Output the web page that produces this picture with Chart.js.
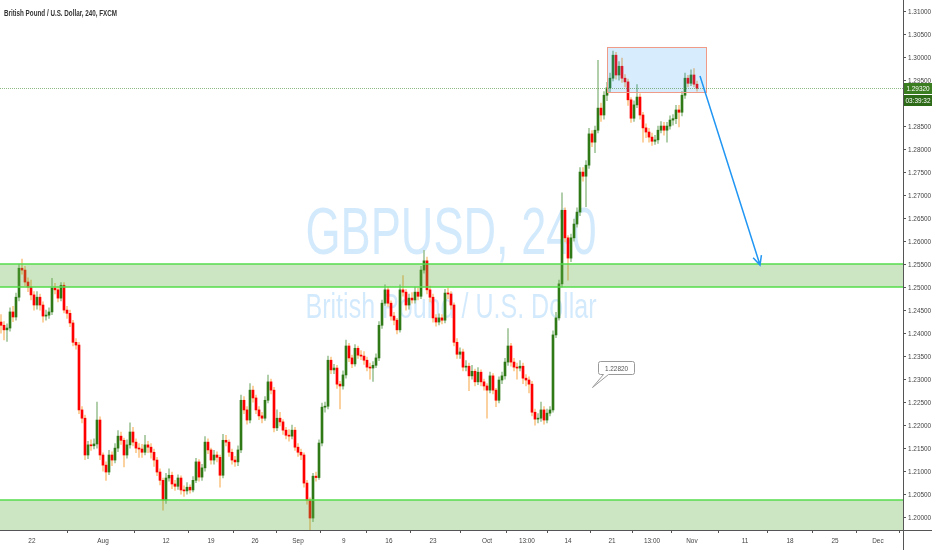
<!DOCTYPE html>
<html>
<head>
<meta charset="utf-8">
<script src="https://cdn.jsdelivr.net/npm/chart.js@4.4.1/dist/chart.umd.min.js"></script>
<style>
  html, body { margin: 0; padding: 0; background: #fff; }
  #wrap { width: 932px; height: 550px; }
</style>
</head>
<body>
<div id="wrap"><canvas id="chart" width="932" height="550"></canvas></div>
<script>
// GBPUSD 240, one candle per two 4h bars
const firstOpen = 1.2424
const closes = [
  1.2417, 1.2407, 1.2411, 1.2446, 1.2435, 1.2478, 1.2541, 1.2537, 1.2511, 1.2500,
  1.2483, 1.2461, 1.2478, 1.2461, 1.2437, 1.2439, 1.2446, 1.2498, 1.2494, 1.2476,
  1.2504, 1.2450, 1.2443, 1.2422, 1.2380, 1.2374, 1.2233, 1.2215, 1.2135, 1.2157,
  1.2155, 1.2159, 1.2211, 1.2135, 1.2113, 1.2098, 1.2135, 1.2124, 1.2150, 1.2176,
  1.2167, 1.2135, 1.2157, 1.2185, 1.2163, 1.2150, 1.2148, 1.2141, 1.2157, 1.2152,
  1.2141, 1.2124, 1.2098, 1.2080, 1.2037, 1.2085, 1.2091, 1.2072, 1.2067, 1.2085,
  1.2059, 1.2057, 1.2065, 1.2059, 1.2080, 1.2120, 1.2087, 1.2107, 1.2163, 1.2146,
  1.2124, 1.2135, 1.2130, 1.2091, 1.2167, 1.2163, 1.2141, 1.2124, 1.2120, 1.2146,
  1.2254, 1.2233, 1.2211, 1.2276, 1.2259, 1.2233, 1.2220, 1.2215, 1.2254, 1.2294,
  1.2276, 1.2194, 1.2215, 1.2207, 1.2189, 1.2178, 1.2176, 1.2189, 1.2152, 1.2141,
  1.2135, 1.2074, 1.2037, 1.1998, 1.2089, 1.2086, 1.2161, 1.2239, 1.2241, 1.2341,
  1.2320, 1.2324, 1.2289, 1.2285, 1.2309, 1.2372, 1.2346, 1.2333, 1.2367, 1.2352,
  1.2350, 1.2341, 1.2326, 1.2324, 1.2330, 1.2346, 1.2417, 1.2465, 1.2494, 1.2465,
  1.2437, 1.2428, 1.2407, 1.2494, 1.2489, 1.2461, 1.2476, 1.2472, 1.2489, 1.2480,
  1.2537, 1.2557, 1.2494, 1.2478, 1.2433, 1.2424, 1.2433, 1.2428, 1.2487, 1.2485,
  1.2461, 1.2380, 1.2354, 1.2359, 1.2326, 1.2328, 1.2307, 1.2317, 1.2294, 1.2315,
  1.2294, 1.2285, 1.2276, 1.2307, 1.2276, 1.2254, 1.2298, 1.2307, 1.2337, 1.2372,
  1.2337, 1.2326, 1.2324, 1.2328, 1.2302, 1.2298, 1.2289, 1.2228, 1.2213, 1.2215,
  1.2233, 1.2211, 1.2226, 1.2233, 1.2396, 1.2433, 1.2507, 1.2667, 1.2607, 1.2563,
  1.2607, 1.2637, 1.2663, 1.2750, 1.2741, 1.2765, 1.2833, 1.2815, 1.2841, 1.2889,
  1.2874, 1.2917, 1.2933, 1.2954, 1.3004, 1.2961, 1.2980, 1.2954, 1.2946, 1.2907,
  1.2867, 1.2896, 1.2913, 1.2874, 1.2846, 1.2837, 1.2826, 1.2817, 1.2820, 1.2841,
  1.2850, 1.2841, 1.2850, 1.2863, 1.2866, 1.2885, 1.2880, 1.2917, 1.2954, 1.2943,
  1.2961, 1.2941, 1.2932
]
const highs = [
  1.2440, 1.2425, 1.2420, 1.2455, 1.2458, 1.2487, 1.2550, 1.2561, 1.2545, 1.2520,
  1.2515, 1.2490, 1.2490, 1.2485, 1.2468, 1.2450, 1.2455, 1.2519, 1.2508, 1.2500,
  1.2510, 1.2510, 1.2458, 1.2450, 1.2428, 1.2388, 1.2380, 1.2240, 1.2222, 1.2165,
  1.2168, 1.2170, 1.2250, 1.2218, 1.2140, 1.2120, 1.2145, 1.2142, 1.2160, 1.2188,
  1.2185, 1.2172, 1.2168, 1.2205, 1.2195, 1.2170, 1.2160, 1.2158, 1.2178, 1.2165,
  1.2160, 1.2148, 1.2130, 1.2105, 1.2085, 1.2095, 1.2105, 1.2098, 1.2080, 1.2092,
  1.2090, 1.2068, 1.2075, 1.2070, 1.2088, 1.2128, 1.2125, 1.2115, 1.2175, 1.2170,
  1.2150, 1.2145, 1.2142, 1.2135, 1.2180, 1.2178, 1.2168, 1.2148, 1.2132, 1.2155,
  1.2265, 1.2262, 1.2240, 1.2290, 1.2285, 1.2265, 1.2240, 1.2228, 1.2262, 1.2309,
  1.2300, 1.2282, 1.2233, 1.2228, 1.2212, 1.2195, 1.2190, 1.2200, 1.2195, 1.2160,
  1.2148, 1.2140, 1.2080, 1.2042, 1.2095, 1.2098, 1.2168, 1.2248, 1.2250, 1.2350,
  1.2348, 1.2332, 1.2330, 1.2295, 1.2318, 1.2385, 1.2378, 1.2352, 1.2375, 1.2372,
  1.2362, 1.2360, 1.2348, 1.2335, 1.2338, 1.2355, 1.2425, 1.2472, 1.2505, 1.2500,
  1.2470, 1.2445, 1.2432, 1.2505, 1.2525, 1.2495, 1.2485, 1.2488, 1.2500, 1.2498,
  1.2545, 1.2580, 1.2565, 1.2502, 1.2485, 1.2440, 1.2442, 1.2440, 1.2495, 1.2498,
  1.2490, 1.2466, 1.2388, 1.2368, 1.2365, 1.2340, 1.2335, 1.2330, 1.2322, 1.2325,
  1.2320, 1.2300, 1.2290, 1.2315, 1.2312, 1.2280, 1.2305, 1.2315, 1.2345, 1.2410,
  1.2378, 1.2345, 1.2335, 1.2340, 1.2335, 1.2310, 1.2305, 1.2295, 1.2235, 1.2225,
  1.2250, 1.2240, 1.2235, 1.2240, 1.2405, 1.2445, 1.2515, 1.2705, 1.2672, 1.2612,
  1.2615, 1.2648, 1.2672, 1.2760, 1.2760, 1.2775, 1.2845, 1.2840, 1.2850, 1.2993,
  1.2900, 1.2925, 1.2945, 1.2965, 1.3013, 1.3010, 1.2990, 1.2998, 1.2962, 1.2952,
  1.2912, 1.2905, 1.2940, 1.2920, 1.2880, 1.2855, 1.2845, 1.2835, 1.2830, 1.2850,
  1.2860, 1.2858, 1.2858, 1.2872, 1.2875, 1.2895, 1.2895, 1.2925, 1.2965, 1.2960,
  1.2972, 1.2975, 1.2948
]
const lows = [
  1.2400, 1.2385, 1.2382, 1.2404, 1.2425, 1.2428, 1.2470, 1.2528, 1.2503, 1.2490,
  1.2472, 1.2450, 1.2452, 1.2450, 1.2424, 1.2428, 1.2432, 1.2440, 1.2485, 1.2468,
  1.2470, 1.2444, 1.2432, 1.2414, 1.2372, 1.2365, 1.2225, 1.2205, 1.2125, 1.2127,
  1.2145, 1.2148, 1.2150, 1.2125, 1.2100, 1.2080, 1.2092, 1.2112, 1.2118, 1.2142,
  1.2158, 1.2109, 1.2128, 1.2150, 1.2155, 1.2140, 1.2130, 1.2130, 1.2135, 1.2140,
  1.2128, 1.2110, 1.2090, 1.2070, 1.2015, 1.2030, 1.2078, 1.2062, 1.2058, 1.2060,
  1.2050, 1.2045, 1.2050, 1.2052, 1.2055, 1.2075, 1.2078, 1.2080, 1.2100, 1.2138,
  1.2115, 1.2115, 1.2120, 1.2065, 1.2085, 1.2155, 1.2132, 1.2115, 1.2110, 1.2112,
  1.2140, 1.2225, 1.2202, 1.2205, 1.2250, 1.2225, 1.2212, 1.2205, 1.2210, 1.2248,
  1.2268, 1.2185, 1.2188, 1.2198, 1.2180, 1.2170, 1.2165, 1.2170, 1.2145, 1.2132,
  1.2125, 1.2065, 1.2028, 1.1959, 1.1990, 1.2078, 1.2082, 1.2155, 1.2228, 1.2235,
  1.2312, 1.2312, 1.2280, 1.2235, 1.2278, 1.2302, 1.2338, 1.2325, 1.2328, 1.2345,
  1.2342, 1.2332, 1.2318, 1.2300, 1.2295, 1.2325, 1.2340, 1.2410, 1.2460, 1.2458,
  1.2428, 1.2418, 1.2398, 1.2402, 1.2480, 1.2450, 1.2452, 1.2465, 1.2465, 1.2472,
  1.2475, 1.2530, 1.2485, 1.2468, 1.2424, 1.2415, 1.2418, 1.2420, 1.2422, 1.2475,
  1.2452, 1.2372, 1.2345, 1.2345, 1.2318, 1.2318, 1.2275, 1.2300, 1.2285, 1.2288,
  1.2285, 1.2276, 1.2215, 1.2270, 1.2268, 1.2240, 1.2248, 1.2290, 1.2300, 1.2330,
  1.2328, 1.2318, 1.2300, 1.2318, 1.2290, 1.2285, 1.2270, 1.2220, 1.2200, 1.2205,
  1.2208, 1.2202, 1.2205, 1.2220, 1.2228, 1.2390, 1.2428, 1.2500, 1.2598, 1.2515,
  1.2555, 1.2600, 1.2630, 1.2655, 1.2730, 1.2675, 1.2758, 1.2805, 1.2792, 1.2835,
  1.2860, 1.2865, 1.2905, 1.2925, 1.2948, 1.2952, 1.2950, 1.2945, 1.2935, 1.2895,
  1.2858, 1.2860, 1.2890, 1.2865, 1.2815, 1.2825, 1.2815, 1.2808, 1.2810, 1.2812,
  1.2835, 1.2830, 1.2815, 1.2843, 1.2852, 1.2855, 1.2848, 1.2872, 1.2910, 1.2935,
  1.2938, 1.2935, 1.2926
]

// axis labels
const priceTicks = [1.200, 1.205, 1.210, 1.215, 1.220, 1.225, 1.230, 1.235, 1.240, 1.245, 1.250,
  1.255, 1.260, 1.265, 1.270, 1.275, 1.280, 1.285, 1.290, 1.295, 1.300, 1.305, 1.310]
const dateTicks = [10.3, 34.0, 55.0, 70.0, 84.7, 99.0, 114.3, 129.3, 144.0, 162.0,
  175.3, 189.0, 203.7, 217.0, 230.3, 248.0, 263.0, 278.0, 292.3]
const dateLabels = ['22', 'Aug', '12', '19', '26', 'Sep', '9', '16', '23', 'Oct',
  '13:00', '14', '21', '13:00', 'Nov', '11', '18', '25', 'Dec']

// drawings on the chart (bar index / price)
const lastPrice = 1.29320
const countdown = '03:39:32'
const zones = [[1.2500, 1.2550], [1.1900, 1.2037]]
const boxBars = [202, 235]
const boxPrices = [1.2924, 1.3022]
const arrowFrom = [233, 1.2959]
const arrowTo = [253, 1.2548]
const calloutAt = [197, 1.2282]
const calloutText = '1.22820'

const labelFont = '8px "Liberation Sans", Arial, sans-serif'
const opens = closes.map((c, i) => i === 0 ? firstOpen : closes[i - 1])
const up = closes.map((c, i) => c >= opens[i])

// text squeezed sideways, the TradingView font is a narrow one
function narrowText(ctx, text, x, y, sx, font, align, baseline) {
  ctx.save()
  ctx.font = font
  ctx.translate(x, y)
  ctx.scale(sx, 1)
  ctx.textAlign = align || 'center'
  ctx.textBaseline = baseline || 'alphabetic'
  ctx.fillText(text, 0, 0)
  ctx.restore()
}

function fitText(ctx, text, x, y, width, font, align) {
  ctx.save()
  ctx.font = font
  const w = ctx.measureText(text).width
  ctx.restore()
  narrowText(ctx, text, x, y, width / w, font, align)
}

const drawings = {
  id: 'drawings',
  beforeDatasetsDraw(chart) {
    const ctx = chart.ctx
    ctx.save()
    ctx.fillStyle = 'rgba(33,150,243,0.2)'
    fitText(ctx, 'GBPUSD, 240', 451, 254, 291, '67px "Liberation Sans", Arial, sans-serif')
    fitText(ctx, 'British Pound / U.S. Dollar', 451, 318, 291, '35px "Liberation Sans", Arial, sans-serif')
    ctx.restore()
  },
  afterDatasetsDraw(chart) {
    const ctx = chart.ctx
    const a = chart.chartArea
    const xs = chart.scales.x
    const ys = chart.scales.y
    ctx.save()
    ctx.beginPath()
    ctx.rect(a.left, a.top, a.right - a.left, a.bottom - a.top)
    ctx.clip()

    // support zones
    for (const z of zones) {
      const y1 = ys.getPixelForValue(z[1])
      const y2 = ys.getPixelForValue(z[0])
      ctx.fillStyle = 'rgba(100,175,70,0.33)'
      ctx.fillRect(a.left, y1, a.right - a.left, y2 - y1)
      ctx.strokeStyle = '#55dd4c'
      ctx.lineWidth = 1.5
      ctx.beginPath()
      ctx.moveTo(a.left, y1); ctx.lineTo(a.right, y1)
      ctx.moveTo(a.left, y2); ctx.lineTo(a.right, y2)
      ctx.stroke()
    }

    // top box
    const bx1 = xs.getPixelForValue(boxBars[0])
    const bx2 = xs.getPixelForValue(boxBars[1])
    const by1 = ys.getPixelForValue(boxPrices[1])
    const by2 = ys.getPixelForValue(boxPrices[0])
    ctx.fillStyle = 'rgba(33,150,243,0.18)'
    ctx.fillRect(bx1, by1, bx2 - bx1, by2 - by1)
    ctx.strokeStyle = '#f09a88'
    ctx.lineWidth = 1
    ctx.strokeRect(Math.round(bx1) + 0.5, Math.round(by1) + 0.5, Math.round(bx2 - bx1), Math.round(by2 - by1))

    // last price line
    const py = Math.round(ys.getPixelForValue(lastPrice)) + 0.5
    ctx.strokeStyle = 'rgba(70,140,50,0.6)'
    ctx.setLineDash([1, 1])
    ctx.beginPath()
    ctx.moveTo(a.left, py); ctx.lineTo(a.right, py)
    ctx.stroke()
    ctx.setLineDash([])

    // arrow
    const ax1 = xs.getPixelForValue(arrowFrom[0]), ay1 = ys.getPixelForValue(arrowFrom[1])
    const ax2 = xs.getPixelForValue(arrowTo[0]), ay2 = ys.getPixelForValue(arrowTo[1])
    const ang = Math.atan2(ay2 - ay1, ax2 - ax1)
    ctx.strokeStyle = '#2196f3'
    ctx.lineWidth = 1.5
    ctx.beginPath()
    ctx.moveTo(ax1, ay1); ctx.lineTo(ax2, ay2)
    ctx.moveTo(ax2 - 10 * Math.cos(ang - 0.45), ay2 - 10 * Math.sin(ang - 0.45))
    ctx.lineTo(ax2, ay2)
    ctx.lineTo(ax2 - 10 * Math.cos(ang + 0.45), ay2 - 10 * Math.sin(ang + 0.45))
    ctx.stroke()

    // callout
    const cx = Math.round(xs.getPixelForValue(calloutAt[0])) + 0.5
    const cy = Math.round(ys.getPixelForValue(calloutAt[1])) + 0.5
    const l = cx + 6, r = cx + 42, t = cy - 26, b = cy - 13
    ctx.beginPath()
    ctx.moveTo(l + 2, t); ctx.lineTo(r - 2, t); ctx.quadraticCurveTo(r, t, r, t + 2)
    ctx.lineTo(r, b - 2); ctx.quadraticCurveTo(r, b, r - 2, b)
    ctx.lineTo(cx + 16, b); ctx.lineTo(cx, cy); ctx.lineTo(cx + 11, b)
    ctx.lineTo(l + 2, b); ctx.quadraticCurveTo(l, b, l, b - 2)
    ctx.lineTo(l, t + 2); ctx.quadraticCurveTo(l, t, l + 2, t)
    ctx.closePath()
    ctx.fillStyle = '#fff'
    ctx.fill()
    ctx.strokeStyle = '#9a9a9a'
    ctx.lineWidth = 1
    ctx.stroke()
    ctx.fillStyle = '#555'
    narrowText(ctx, calloutText, (l + r) / 2, (t + b) / 2 + 0.5, 0.8, labelFont, 'center', 'middle')
    ctx.restore()
  },
  afterDraw(chart) {
    const ctx = chart.ctx
    const a = chart.chartArea
    const xs = chart.scales.x
    const ys = chart.scales.y
    ctx.save()
    ctx.strokeStyle = '#555'
    ctx.lineWidth = 1
    ctx.beginPath()
    ctx.moveTo(a.right + 0.5, 0); ctx.lineTo(a.right + 0.5, chart.height)
    ctx.moveTo(0, a.bottom + 0.5); ctx.lineTo(chart.width, a.bottom + 0.5)
    ctx.stroke()

    // tick labels, drawn narrow at the scale's own tick positions
    ctx.fillStyle = '#444'
    ys.ticks.forEach((t, i) => {
      narrowText(ctx, priceTicks[i].toFixed(5), a.right + 5, ys.getPixelForValue(t.value) + 0.5, 0.8, labelFont, 'left', 'middle')
    })
    xs.ticks.forEach((t, i) => {
      narrowText(ctx, dateLabels[i], xs.getPixelForValue(t.value), a.bottom + 11, 0.8, labelFont, 'center', 'middle')
    })

    // last price + countdown labels
    const py = Math.round(ys.getPixelForValue(lastPrice))
    ctx.fillStyle = '#3b7e22'
    ctx.fillRect(a.right + 1, py - 5, chart.width - a.right - 1, 11)
    ctx.fillStyle = '#2d6b18'
    ctx.fillRect(a.right + 1, py + 7, chart.width - a.right - 1, 11)
    ctx.fillStyle = '#fff'
    const mid = (a.right + chart.width) / 2 + 0.5
    narrowText(ctx, lastPrice.toFixed(5), mid, py + 0.5, 0.8, labelFont, 'center', 'middle')
    narrowText(ctx, countdown, mid, py + 12.5, 0.8, labelFont, 'center', 'middle')

    // title
    ctx.fillStyle = '#333'
    fitText(ctx, 'British Pound / U.S. Dollar, 240, FXCM', 4, 16, 113, 'bold 9px "Liberation Sans", Arial, sans-serif', 'left')
    ctx.restore()
  }
}

new Chart(document.getElementById('chart'), {
  type: 'bar',
  data: {
    datasets: [
      {
        data: closes.map((c, i) => ({ x: i, y: [opens[i], c] })),
        backgroundColor: up.map(u => u ? '#2f7a17' : '#ff0000'),
        barThickness: 2,
        minBarLength: 1,
        grouped: false,
        order: 1
      },
      {
        data: closes.map((c, i) => ({ x: i, y: [lows[i], highs[i]] })),
        backgroundColor: up.map(u => u ? '#a3c69b' : '#fbc88c'),
        barThickness: 1,
        grouped: false,
        order: 2
      }
    ]
  },
  options: {
    responsive: false,
    animation: false,
    layout: { padding: 0 },
    plugins: { legend: { display: false }, tooltip: { enabled: false } },
    scales: {
      x: {
        type: 'linear',
        min: -1 / 3,
        max: 301 - 1 / 3,
        offset: false,
        border: { display: false },
        grid: { drawOnChartArea: false, tickLength: 3, color: '#555' },
        ticks: { autoSkip: false, maxRotation: 0, padding: 2, color: 'rgba(0,0,0,0)', font: { size: 8 } },
        afterBuildTicks: s => { s.ticks = dateTicks.map(v => ({ value: v })) },
        afterFit: s => { s.height = 20; s.paddingLeft = 0; s.paddingRight = 0 }
      },
      y: {
        position: 'right',
        min: 1.1972,
        max: 1.3124,
        border: { display: false },
        grid: { drawOnChartArea: false, tickLength: 3, color: '#555' },
        ticks: { padding: 2, color: 'rgba(0,0,0,0)', font: { size: 8 } },
        afterBuildTicks: s => { s.ticks = priceTicks.map(v => ({ value: v })) },
        afterFit: s => { s.width = 29; s.paddingTop = 0; s.paddingBottom = 0 }
      }
    }
  },
  plugins: [drawings]
})
</script>
</body>
</html>
